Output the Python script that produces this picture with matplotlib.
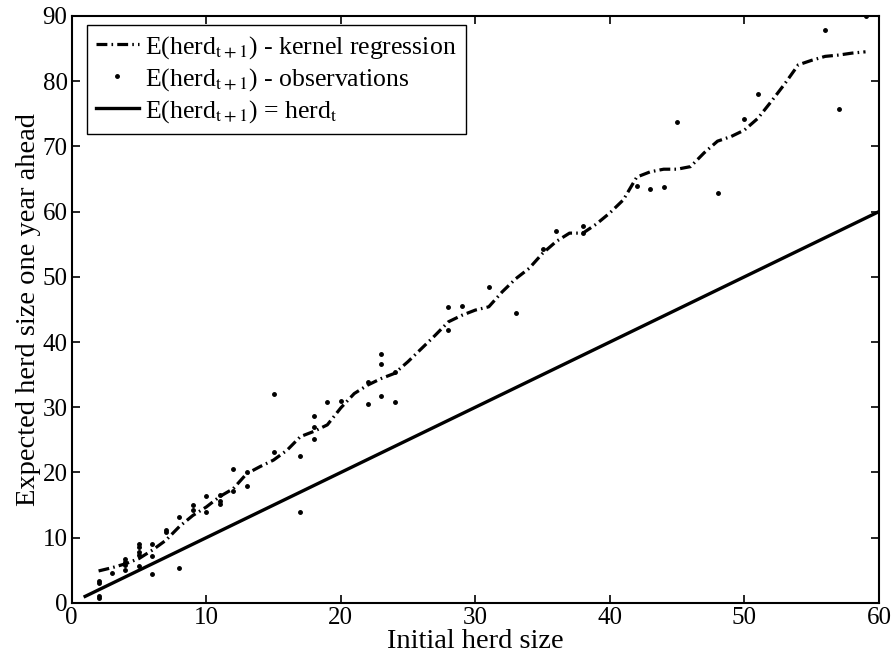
import matplotlib
matplotlib.use("Agg")
import matplotlib.pyplot as plt

plt.rcParams['font.family'] = ['Liberation Serif', 'DejaVu Serif']
plt.rcParams['mathtext.fontset'] = 'stix'

# observations (initial herd size, herd size one year ahead)
obs_x = [2, 2, 2, 2, 3, 4, 4, 4, 4, 5, 5, 5, 5, 5, 6, 6, 6, 7, 7, 8, 8,
         9, 9, 10, 10, 11, 11, 11, 12, 12, 13, 13, 15, 15, 17, 17,
         18, 18, 18, 19, 20, 22, 22, 23, 23, 23, 24, 24, 28, 28, 29,
         31, 33, 35, 36, 38, 38, 42, 43, 44, 45, 48, 50, 51, 56, 57, 59]
obs_y = [3.4, 3.0, 1.0, 0.7, 4.6, 6.7, 6.3, 5.8, 5.1, 9.1, 8.5, 7.8, 7.3,
         5.6, 9.0, 7.2, 4.4, 11.2, 10.9, 13.2, 5.4, 15.0, 14.2, 16.4, 14.0,
         16.5, 15.7, 15.1, 20.6, 17.2, 20.1, 18.0, 32.0, 23.2, 22.6, 14.0,
         28.7, 27.0, 25.1, 30.8, 30.9, 33.9, 30.5, 38.1, 36.6, 31.7, 35.4,
         30.8, 45.4, 41.9, 45.5, 48.5, 44.5, 54.2, 57.0, 57.8, 56.7, 64.0,
         63.5, 63.7, 73.8, 62.9, 74.2, 78.1, 87.8, 75.7, 90.0]

# kernel regression estimate
kern_x = [2, 3, 4, 5, 6, 7, 8, 9, 10, 11, 12, 13, 14, 15, 16, 17, 18, 19,
          20, 21, 22, 23, 24, 25, 26, 27, 28, 29, 30, 31, 32, 33, 34, 35,
          36, 37, 38, 39, 40, 41, 42, 43, 44, 45, 46, 47, 48, 49, 50, 51,
          52, 53, 54, 55, 56, 57, 58, 59]
kern_y = [4.9, 5.4, 6.0, 6.8, 8.1, 9.6, 11.7, 13.4, 14.7, 16.3, 17.5, 19.8,
          20.9, 21.9, 23.4, 25.5, 26.3, 27.3, 29.9, 32.1, 33.4, 34.4, 35.2,
          37.0, 39.0, 41.0, 43.1, 44.1, 44.9, 45.4, 47.7, 49.7, 51.3, 53.6,
          55.4, 56.7, 56.7, 58.1, 59.8, 61.8, 65.3, 66.1, 66.5, 66.5, 66.9,
          69.0, 70.8, 71.5, 72.5, 74.3, 76.9, 79.6, 82.5, 83.2, 83.8, 84.0,
          84.3, 84.5]

# 45 degree reference line
diag_x = [1, 60]
diag_y = [1, 60]

fig = plt.figure(figsize=(8.96, 6.64), dpi=100)
ax = fig.add_axes([0.080, 0.092, 0.901, 0.884])

ax.plot(kern_x, kern_y, color='black', linestyle='-.', linewidth=2.3,
        dashes=(3.4, 1.3, 0.5, 1.3),
        label=r'E(herd$_{\mathrm{t+1}}$) - kernel regression')
ax.plot(obs_x, obs_y, linestyle='none', marker='.', markersize=5,
        color='black', label=r'E(herd$_{\mathrm{t+1}}$) - observations')
ax.plot(diag_x, diag_y, color='black', linestyle='-', linewidth=2.4,
        label=r'E(herd$_{\mathrm{t+1}}$) = herd$_{\mathrm{t}}$')

ax.set_xlim(0, 60)
ax.set_ylim(0, 90)
ax.set_xticks(range(0, 61, 10))
ax.set_yticks(range(0, 91, 10))
ax.tick_params(direction='in', top=True, right=True, labelsize=18,
               length=6, width=1.2, pad=3)
for s in ax.spines.values():
    s.set_linewidth(1.5)

ax.set_xlabel("Initial herd size", fontsize=20.5, labelpad=0)
ax.set_ylabel("Expected herd size one year ahead", fontsize=20.5,
              labelpad=1)

leg = ax.legend(loc='upper left', bbox_to_anchor=(0.0193, 0.9845),
                fontsize=18.5, fancybox=False, framealpha=1,
                edgecolor='black', borderaxespad=0, handlelength=1.65,
                handletextpad=0.25, labelspacing=0.2, borderpad=0.35)
leg.get_frame().set_linewidth(1.0)

fig.savefig("out.png", dpi=100)
